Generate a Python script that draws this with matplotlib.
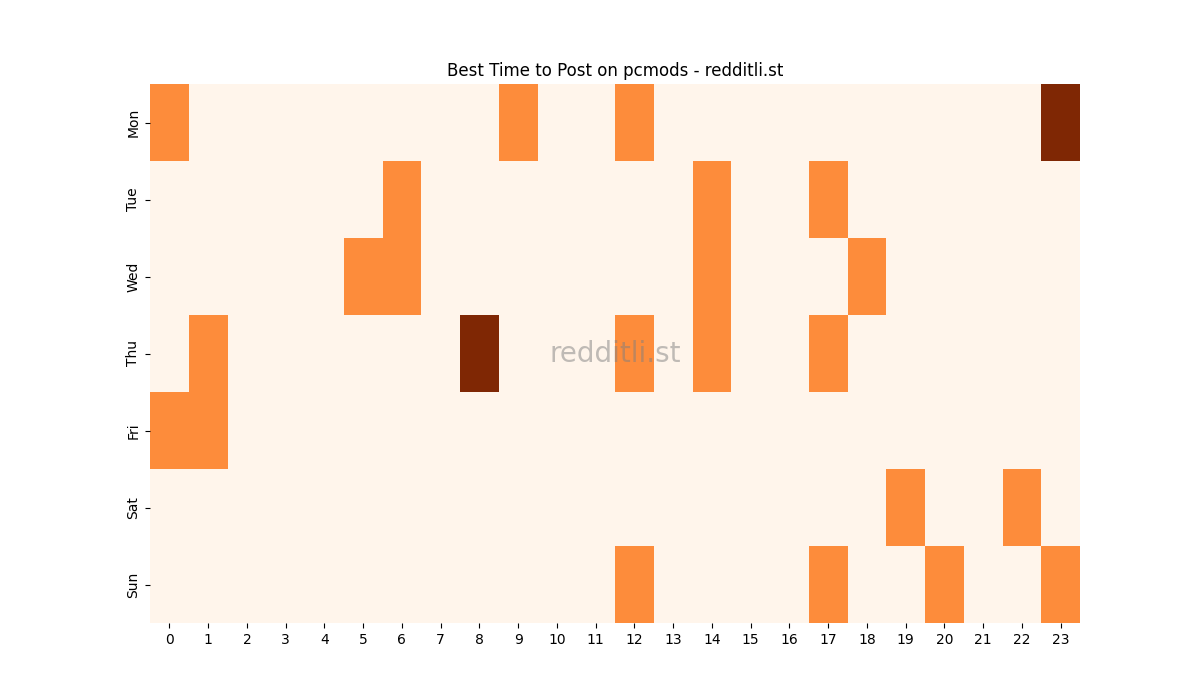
import matplotlib
matplotlib.use("Agg")
import matplotlib.pyplot as plt
import seaborn as sns
import numpy as np

# data: activity level per day/hour (0 = low, 1 = good, 2 = best)
days = ['Mon', 'Tue', 'Wed', 'Thu', 'Fri', 'Sat', 'Sun']
hours = list(range(24))

mon = [1, 0, 0, 0, 0, 0, 0, 0, 0, 1, 0, 0, 1, 0, 0, 0, 0, 0, 0, 0, 0, 0, 0, 2]
tue = [0, 0, 0, 0, 0, 0, 1, 0, 0, 0, 0, 0, 0, 0, 1, 0, 0, 1, 0, 0, 0, 0, 0, 0]
wed = [0, 0, 0, 0, 0, 1, 1, 0, 0, 0, 0, 0, 0, 0, 1, 0, 0, 0, 1, 0, 0, 0, 0, 0]
thu = [0, 1, 0, 0, 0, 0, 0, 0, 2, 0, 0, 0, 1, 0, 1, 0, 0, 1, 0, 0, 0, 0, 0, 0]
fri = [1, 1, 0, 0, 0, 0, 0, 0, 0, 0, 0, 0, 0, 0, 0, 0, 0, 0, 0, 0, 0, 0, 0, 0]
sat = [0, 0, 0, 0, 0, 0, 0, 0, 0, 0, 0, 0, 0, 0, 0, 0, 0, 0, 0, 1, 0, 0, 1, 0]
sun = [0, 0, 0, 0, 0, 0, 0, 0, 0, 0, 0, 0, 1, 0, 0, 0, 0, 1, 0, 0, 1, 0, 0, 1]

grid = np.array([mon, tue, wed, thu, fri, sat, sun])

fig, ax = plt.subplots(figsize=(12, 7), dpi=100)
sns.heatmap(grid, cmap='Oranges', cbar=False, xticklabels=hours,
            yticklabels=days, ax=ax)
ax.set_title('Best Time to Post on pcmods - redditli.st')

# watermark
ax.text(0.5, 0.5, 'redditli.st', transform=ax.transAxes, ha='center',
        va='center', fontsize=20, color='grey', alpha=0.5)

plt.savefig('out.png')
